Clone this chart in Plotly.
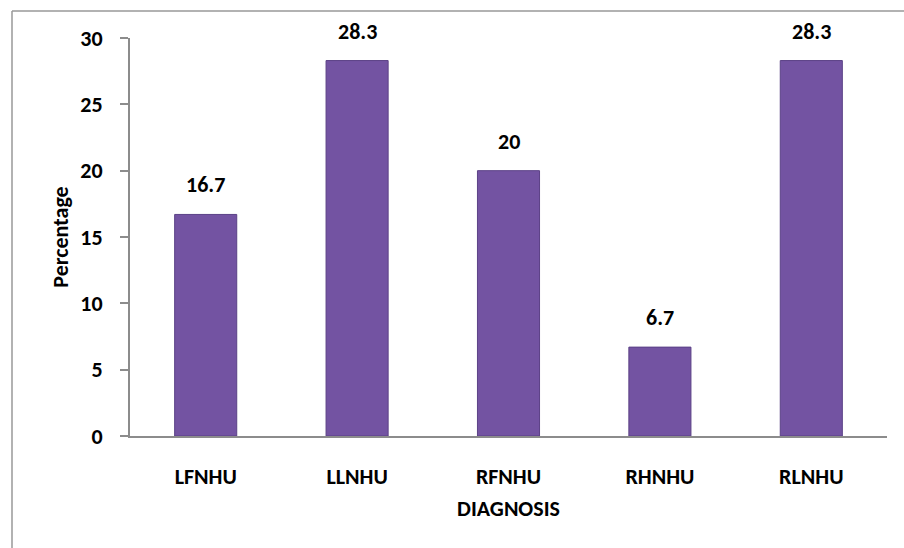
import plotly.graph_objects as go

# Diagnosis categories and their share (%)
categories = ["LFNHU", "LLNHU", "RFNHU", "RHNHU", "RLNHU"]
percentages = [16.7, 28.3, 20, 6.7, 28.3]
value_labels = ["16.7", "28.3", "20", "6.7", "28.3"]
y_ticks = [0, 5, 10, 15, 20, 25, 30]

FONT = "Carlito, Lato, Open Sans, sans-serif"
AXIS_GRAY = "#8c8c8c"
BOLD = dict(family=FONT, color="black", weight="bold")

fig = go.Figure()
fig.add_trace(go.Bar(
    x=categories,
    y=percentages,
    width=0.41,
    marker=dict(color="#7353a2", line=dict(color="#5b4186", width=1)),
    hoverinfo="x+y",
))

# value labels sitting above each bar
for cat, val, lab in zip(categories, percentages, value_labels):
    fig.add_annotation(
        x=cat, y=val, text=lab, showarrow=False,
        yanchor="bottom", yshift=14,
        font=dict(BOLD, size=22),
    )

fig.update_layout(
    width=904,
    height=548,
    margin=dict(l=130, r=17, t=38, b=112),
    paper_bgcolor="white",
    plot_bgcolor="white",
    showlegend=False,
    font=dict(family=FONT, color="black"),
    xaxis=dict(
        showline=True,
        linecolor=AXIS_GRAY,
        linewidth=2,
        ticks="",
        tickfont=dict(BOLD, size=22),
        ticklabelstandoff=20,
        title=dict(text="DIAGNOSIS", font=dict(BOLD, size=22), standoff=11),
        showgrid=False,
    ),
    yaxis=dict(
        range=[0, 30],
        tickvals=y_ticks,
        showline=True,
        linecolor=AXIS_GRAY,
        linewidth=2,
        ticks="outside",
        ticklen=8,
        tickcolor=AXIS_GRAY,
        tickwidth=2,
        tickfont=dict(BOLD, size=22),
        ticklabelstandoff=13,
        title=dict(text="Percentage", font=dict(BOLD, size=22), standoff=6),
        showgrid=False,
        zeroline=False,
    ),
    shapes=[
        # chart area frame (top and left edges visible)
        dict(type="line", xref="paper", yref="paper",
             x0=-118 / 757, x1=1.1, y0=1 + 27 / 398, y1=1 + 27 / 398,
             line=dict(color="#999999", width=1.5)),
        dict(type="line", xref="paper", yref="paper",
             x0=-118 / 757, x1=-118 / 757, y0=1 + 27 / 398, y1=-0.4,
             line=dict(color="#999999", width=1.5)),
    ],
)

fig.write_html("out.html")
